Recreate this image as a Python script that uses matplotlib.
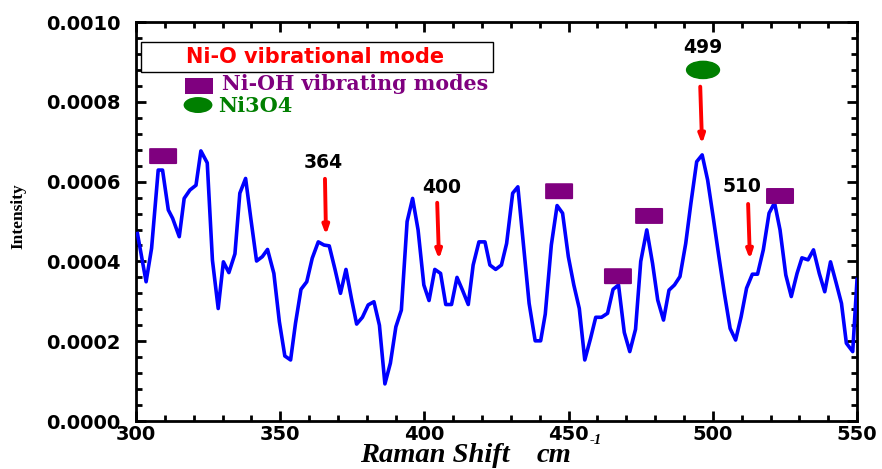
import matplotlib.pyplot as plt
from matplotlib.patches import Rectangle, Ellipse, FancyBboxPatch
from matplotlib.ticker import MultipleLocator
import numpy as np

# spectre Raman
raman_shift = [300.5, 303.5, 305.4, 307.7, 309.2, 311.2, 312.7, 315.0, 316.7, 318.7,
               320.8, 322.5, 324.7, 326.5, 328.5, 330.3, 332.2, 334.3, 336.0, 338.0,
               339.8, 341.8, 343.8, 345.6, 347.8, 349.7, 351.6, 353.6, 355.3, 357.2,
               359.2, 361.1, 363.2, 365.2, 367.0, 369.0, 370.9, 372.8, 374.7, 376.5,
               378.5, 380.5, 382.5, 384.4, 386.3, 388.2, 390.1, 392.0, 394.0, 395.9,
               397.8, 399.8, 401.6, 403.6, 405.6, 407.4, 409.4, 411.3, 413.2, 415.2,
               416.9, 418.9, 421.0, 422.7, 424.7, 426.7, 428.5, 430.6, 432.4, 434.3,
               436.3, 438.4, 440.3, 441.9, 444.0, 446.0, 447.9, 449.9, 451.8, 453.7,
               455.6, 457.6, 459.4, 461.4, 463.5, 465.4, 467.3, 469.3, 471.2, 473.2,
               475.0, 477.1, 479.1, 480.9, 482.9, 484.8, 486.7, 488.6, 490.6, 492.4,
               494.4, 496.3, 498.2, 500.1, 502.1, 504.0, 506.0, 507.9, 509.8, 511.7,
               513.7, 515.5, 517.5, 519.5, 521.4, 523.3, 525.3, 527.2, 529.2, 530.9,
               533.0, 534.9, 536.9, 538.8, 540.8, 542.8, 544.6, 546.3, 548.5, 550.0]
intensity = [0.000470, 0.000349, 0.000433, 0.000629, 0.000629, 0.000529, 0.000508, 0.000462, 0.000558, 0.000579,
             0.000591, 0.000677, 0.000647, 0.000403, 0.000282, 0.000399, 0.000372, 0.000419, 0.000571, 0.000608,
             0.000508, 0.000401, 0.000412, 0.000430, 0.000370, 0.000249, 0.000163, 0.000153, 0.000245, 0.000330,
             0.000349, 0.000408, 0.000449, 0.000441, 0.000439, 0.000380, 0.000320, 0.000380, 0.000307, 0.000243,
             0.000260, 0.000291, 0.000299, 0.000240, 0.000093, 0.000145, 0.000236, 0.000278, 0.000500, 0.000558,
             0.000479, 0.000341, 0.000302, 0.000380, 0.000370, 0.000292, 0.000292, 0.000360, 0.000328, 0.000292,
             0.000391, 0.000449, 0.000449, 0.000391, 0.000380, 0.000391, 0.000445, 0.000571, 0.000587, 0.000445,
             0.000295, 0.000201, 0.000201, 0.000268, 0.000441, 0.000540, 0.000521, 0.000412, 0.000341, 0.000282,
             0.000153, 0.000207, 0.000260, 0.000260, 0.000270, 0.000330, 0.000341, 0.000222, 0.000174, 0.000230,
             0.000400, 0.000479, 0.000395, 0.000303, 0.000253, 0.000328, 0.000341, 0.000362, 0.000445, 0.000546,
             0.000650, 0.000667, 0.000604, 0.000512, 0.000412, 0.000320, 0.000232, 0.000203, 0.000261, 0.000333,
             0.000368, 0.000368, 0.000429, 0.000521, 0.000547, 0.000479, 0.000366, 0.000312, 0.000370, 0.000409,
             0.000404, 0.000429, 0.000370, 0.000324, 0.000399, 0.000345, 0.000295, 0.000195, 0.000174, 0.000355]

# modes Ni-OH (carrés violets)
nioh_x = [309.4, 446.7, 467.1, 477.9, 523.3]
nioh_y = [0.000664, 0.000576, 0.000363, 0.000514, 0.000564]

# pics annotés (étiquette, position du texte, début et fin de flèche)
peak_labels = ["364", "400", "499", "510"]
label_x = [364.8, 406.1, 496.6, 510.1]
label_y = [0.000647, 0.000586, 0.000937, 0.000589]
arrow_x0 = [365.5, 404.4, 495.6, 512.2]
arrow_y0 = [0.000614, 0.000554, 0.000845, 0.000551]
arrow_x1 = [365.9, 405.1, 496.3, 512.9]
arrow_y1 = [0.000459, 0.000398, 0.000687, 0.000398]

# Ni3O4 (ellipse verte)
ni3o4_x = [496.6]
ni3o4_y = [0.000880]

fig = plt.figure(figsize=(8.82, 4.69), dpi=100)
ax = fig.add_axes([0.1542, 0.1023, 0.8175, 0.8507])

ax.plot(raman_shift, intensity, color='#0000ff', lw=2.6, zorder=3)

ax.set_xlim(300, 550)
ax.set_ylim(0, 0.001)
ax.xaxis.set_major_locator(MultipleLocator(50))
ax.xaxis.set_minor_locator(MultipleLocator(10))
ax.yaxis.set_major_locator(MultipleLocator(0.0002))
ax.yaxis.set_minor_locator(MultipleLocator(0.00004))
ax.yaxis.set_major_formatter(plt.FuncFormatter(lambda v, p: "%.4f" % v))
ax.tick_params(which='both', direction='in', top=True, right=True, width=2)
ax.tick_params(which='major', length=7)
ax.tick_params(which='minor', length=4)
ax.tick_params(axis='both', which='major', labelsize=14)
ax.tick_params(axis='y', which='major', pad=11)
ax.tick_params(axis='x', which='major', pad=3)
for lab in ax.get_xticklabels() + ax.get_yticklabels():
    lab.set_family('DejaVu Sans')
    lab.set_fontweight('bold')
for s in ax.spines.values():
    s.set_linewidth(2)

# titre de l'axe x avec exposant
xfont = dict(family='Liberation Serif', fontweight='bold', style='italic', va='baseline', ha='left')
fig.text(360 / 882, 7 / 469, "Raman Shift", fontsize=20.5, **xfont)
fig.text(537 / 882, 7 / 469, "cm", fontsize=20.5, **xfont)
fig.text(590 / 882, 25 / 469, "-1", fontsize=10.5, zorder=6, **xfont)

ax.set_ylabel("Intensity", family='Liberation Serif', fontweight='bold', fontsize=12.5)
ax.yaxis.set_label_coords(-0.152, 0.514)

# rectangles violets
w, h = 9.7, 0.00004
for x, y in zip(nioh_x, nioh_y):
    ax.add_patch(FancyBboxPatch((x - w / 2, y - h / 2), w, h, boxstyle="round,pad=0,rounding_size=0.5",
                                fc='#7f007f', ec='#7f007f', lw=0, mutation_aspect=0.000004, zorder=4))

for x, y in zip(ni3o4_x, ni3o4_y):
    ax.add_patch(Ellipse((x, y), 11.4, 0.000043, fc='#007f00', ec='#007f00', zorder=4))

for t, tx, ty in zip(peak_labels, label_x, label_y):
    ax.text(tx, ty, t, ha='center', va='center', fontsize=13.5, fontweight='bold',
            family='DejaVu Sans', color='black', zorder=5)
for x0, y0, x1, y1 in zip(arrow_x0, arrow_y0, arrow_x1, arrow_y1):
    ax.annotate("", xy=(x1, y1), xytext=(x0, y0),
                arrowprops=dict(arrowstyle='-|>,head_length=0.5,head_width=0.18', color='#ff0000', lw=2.8),
                zorder=5)

# légende faite à la main
ax.add_patch(Rectangle((301.7, 0.000875), 122.1, 0.000075, fc='white', ec='black', lw=1, zorder=4))
ax.text(362.1, 0.000912, "Ni-O vibrational mode", ha='center', va='center', color='#ff0000',
        fontsize=15, fontweight='bold', family='DejaVu Sans', zorder=5)
ax.add_patch(Rectangle((321.8 - 4.85, 0.00084 - 0.00002), 9.7, 0.00004, fc='#7f007f', ec='none', zorder=5))
ax.text(329.8, 0.000845, "Ni-OH vibrating modes", ha='left', va='center', color='#7f007f',
        fontsize=14.8, fontweight='bold', family='DejaVu Serif', zorder=5)
ax.add_patch(Ellipse((321.5, 0.000792), 10.0, 0.00004, fc='#007f00', ec='none', zorder=5))
ax.text(328.4, 0.000789, "Ni3O4", ha='left', va='center', color='#007f00',
        fontsize=15, fontweight='bold', family='DejaVu Serif', zorder=5)

fig.savefig("out.png", dpi=100)
